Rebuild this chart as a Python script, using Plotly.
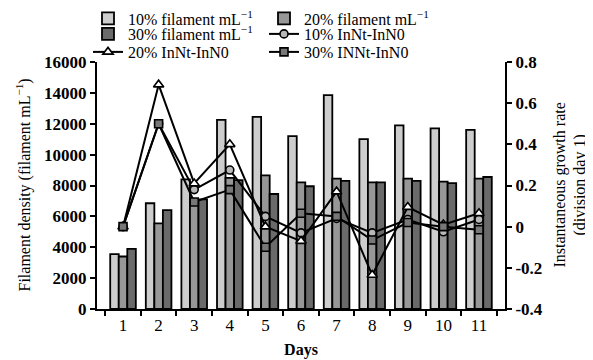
import plotly.graph_objects as go

days = ["1", "2", "3", "4", "5", "6", "7", "8", "9", "10", "11"]

dens10 = [3550, 6850, 8400, 12250, 12450, 11200, 13850, 11000, 11900, 11700, 11600]
dens20 = [3400, 5550, 6900, 8500, 8650, 8200, 8450, 8200, 8450, 8250, 8450]
dens30 = [3900, 6400, 7100, 8350, 7450, 7950, 8300, 8200, 8300, 8150, 8550]

rate10 = [0.0, 0.50, 0.18, 0.275, 0.05, -0.03, 0.04, -0.03, 0.035, -0.025, 0.035]
rate20 = [0.0, 0.69, 0.21, 0.40, 0.0, -0.07, 0.17, -0.235, 0.095, 0.01, 0.065]
rate30 = [0.0, 0.50, 0.12, 0.18, -0.10, 0.065, 0.05, -0.065, 0.02, 0.0, -0.015]

left_ticks = [0, 2000, 4000, 6000, 8000, 10000, 12000, 14000, 16000]
right_ticks = [-0.4, -0.2, 0, 0.2, 0.4, 0.6, 0.8]
right_ticktext = ["-0.4", "-0.2", "0", "0.2", "0.4", "0.6", "0.8"]

names = ["10% filament mL<sup>\u22121</sup>", "20% filament mL<sup>\u22121</sup>",
         "30% filament mL<sup>\u22121</sup>", "10% InNt-InN0", "20% InNt-InN0",
         "30% INNt-InN0"]

FONT = "Liberation Serif"
W, H = 585, 352   # page body has an 8px margin
PL, PR, PT, PB = 89, 88, 54, 51
PW = W - PL - PR

fig = go.Figure()

bar_colors = ["#cdcdcd", "#979797", "#6a6a6a"]
for i, (vals, col) in enumerate(zip([dens10, dens20, dens30], bar_colors)):
    fig.add_trace(go.Bar(
        x=days, y=vals, name=names[i], marker=dict(color=col, line=dict(color="black", width=1.8)),
        legend="legend" if i == 0 else f"legend{i+1}", yaxis="y", showlegend=True))

line_specs = [
    (rate10, dict(symbol="circle", size=8, color="#b8b8b8", line=dict(color="black", width=1.6))),
    (rate20, dict(symbol="triangle-up", size=9, color="white", line=dict(color="black", width=1.6))),
    (rate30, dict(symbol="square", size=8, color="#777777", line=dict(color="black", width=1.6))),
]
for j, (vals, mk) in enumerate(line_specs):
    fig.add_trace(go.Scatter(
        x=days, y=vals, name=names[3 + j], mode="lines+markers",
        line=dict(color="black", width=2), marker=mk,
        legend=f"legend{4+j}", yaxis="y2", showlegend=True))

row_px = [10.5, 26, 44]
row_y = [1 - p / H for p in row_px]
col_x = [80 / W, 256 / W]
pos = [(0, 0), (1, 0), (0, 1), (1, 1), (0, 2), (1, 2)]
legends = {}
for k, (c, r) in enumerate(pos):
    key = "legend" if k == 0 else f"legend{k+1}"
    legends[key] = dict(x=col_x[c], y=row_y[r], xref="container", yref="container",
                        xanchor="left", yanchor="middle",
                        bgcolor="rgba(0,0,0,0)", font=dict(family=FONT, size=16, color="black"),
                        orientation="h")

fig.update_layout(
    width=W, height=H,
    showlegend=True,
    margin=dict(l=PL, r=PR, t=PT, b=PB, autoexpand=False),
    paper_bgcolor="white", plot_bgcolor="white",
    barmode="group", bargap=0.28, bargroupgap=0,
    font=dict(family=FONT, size=16, color="black"),
    xaxis=dict(type="category", tickson="boundaries", ticks="outside", ticklen=5, tickwidth=2,
               tickcolor="black", showline=True, linecolor="black", linewidth=2,
               showgrid=False, zeroline=False,
               tickfont=dict(family=FONT, size=17, color="black"),
               title=dict(text="<b>Days</b>", font=dict(family=FONT, size=16), standoff=9)),
    yaxis=dict(range=[0, 16000], tickvals=left_ticks, tickformat="d", ticks="outside", ticklen=5,
               tickwidth=2, tickcolor="black", showline=True, linecolor="black", linewidth=2,
               showgrid=False, zeroline=False,
               tickfont=dict(family=FONT, size=17, color="black", weight="bold")),
    yaxis2=dict(range=[-0.4, 0.8], overlaying="y", side="right", tickvals=right_ticks,
                ticktext=right_ticktext, ticks="outside", ticklen=5, tickwidth=2,
                tickcolor="black", showline=True, linecolor="black", linewidth=2,
                showgrid=False, zeroline=False,
                tickfont=dict(family=FONT, size=17, color="black", weight="bold")),
    annotations=[
        dict(text="Filament density (filament mL<sup>\u22121</sup>)", textangle=-90,
             xref="paper", yref="paper", x=(16 - PL) / PW, y=0.5, showarrow=False,
             xanchor="center", yanchor="middle", font=dict(family=FONT, size=16)),
        dict(text="Instantaneous growth rate<br>(division day 1)", textangle=-90,
             xref="paper", yref="paper", x=(562 - PL) / PW, y=0.5, showarrow=False,
             xanchor="center", yanchor="middle", font=dict(family=FONT, size=16)),
    ],
    **legends,
)

fig.write_html("out.html")
